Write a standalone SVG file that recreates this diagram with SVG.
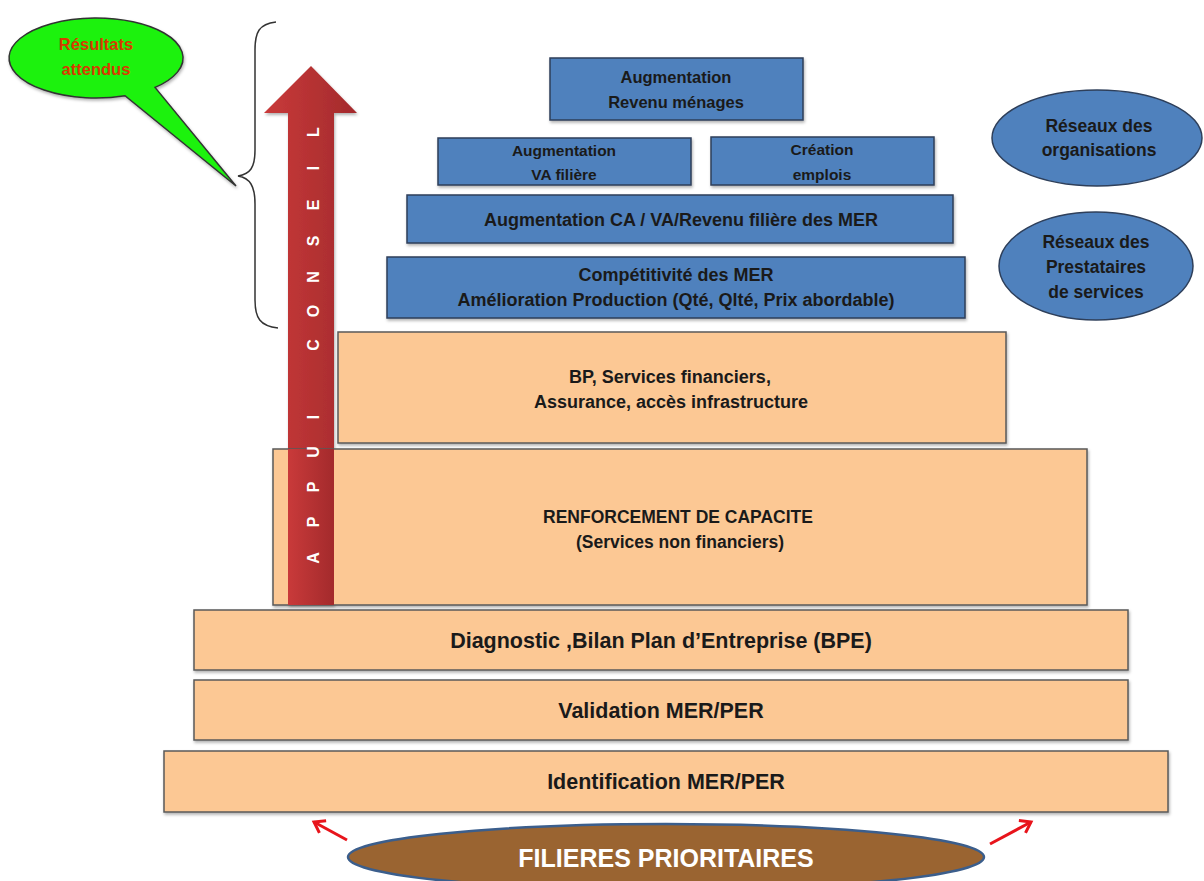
<svg xmlns="http://www.w3.org/2000/svg" width="1204" height="881" viewBox="0 0 1204 881">
<style>
.blue{fill:#4F81BD;stroke:#2E3F5A;stroke-width:1.5}
.peach{fill:#FCC894;stroke:#5A5A5A;stroke-width:1.5}
.t{font-family:"Liberation Sans",Arial,sans-serif;font-weight:bold;fill:#1a1a1a;text-anchor:middle}
.s15{font-size:15.5px}
.s16{font-size:16.5px}
.s18{font-size:18px}
.s21{font-size:21.5px}
</style>
<defs>
<linearGradient id="ag" x1="0" y1="0" x2="1" y2="0">
<stop offset="0" stop-color="#C93A3A"/>
<stop offset="1" stop-color="#A32A2C"/>
</linearGradient>
<filter id="sh" x="-5%" y="-5%" width="110%" height="120%">
<feDropShadow dx="1" dy="2" stdDeviation="1.5" flood-color="#000" flood-opacity="0.3"/>
</filter>
<marker id="ra" markerWidth="18" markerHeight="18" refX="13" refY="9" orient="auto" markerUnits="userSpaceOnUse">
<path d="M3,2 L13,9 L3,16" fill="none" stroke="#E8141B" stroke-width="3"/>
</marker>
</defs>
<rect width="1204" height="881" fill="#fff"/>

<g id="callout">
<path d="M155,87.4 A87,40 0 1,0 125,95.7 L236,186 Z" fill="#1AF20F" stroke="#333" stroke-width="1.5" filter="url(#sh)"/>
<text x="96" y="50" class="t" style="fill:#D83A00;font-size:16.5px">Résultats</text>
<text x="96" y="75" class="t" style="fill:#D83A00;font-size:16.5px">attendus</text>
</g>

<g id="brace">
<path d="M276,22 C259,24 255,32 255,50 L255,150 C255,168 250,174 238,176 C250,178 255,186 255,204 L255,300 C255,318 260,326 278,328" fill="none" stroke="#333" stroke-width="1.5"/>
</g>

<g id="appui-arrow">
<path d="M311,66 L357,113 L334,113 L334,605 L288,605 L288,113 L264,113 Z" fill="url(#ag)" filter="url(#sh)"/>
</g>

<g id="n-revenu">
<rect x="550" y="58" width="253" height="62" class="blue" filter="url(#sh)"/>
<text x="676" y="83" class="t s16">Augmentation</text>
<text x="676" y="108" class="t s16">Revenu ménages</text>
</g>
<g id="n-va">
<rect x="438" y="138" width="253" height="47" class="blue" filter="url(#sh)"/>
<text x="564" y="156" class="t s15">Augmentation</text>
<text x="564" y="180" class="t s15">VA filière</text>
</g>
<g id="n-emplois">
<rect x="711" y="137" width="223" height="48" class="blue" filter="url(#sh)"/>
<text x="822" y="155" class="t s15">Création</text>
<text x="822" y="180" class="t s15">emplois</text>
</g>
<g id="n-ca">
<rect x="407" y="195" width="546" height="48" class="blue" filter="url(#sh)"/>
<text x="681" y="226" class="t s18">Augmentation CA / VA/Revenu filière des MER</text>
</g>
<g id="n-compet">
<rect x="387" y="257" width="578" height="61" class="blue" filter="url(#sh)"/>
<text x="676" y="281" class="t s18">Compétitivité des MER</text>
<text x="676" y="306" class="t s18">Amélioration  Production (Qté, Qlté, Prix abordable)</text>
</g>

<g id="n-reseaux-org">
<ellipse cx="1097" cy="138" rx="105" ry="48" class="blue"/>
<text x="1099" y="132" class="t" style="font-size:17.5px">Réseaux des</text>
<text x="1099" y="156" class="t" style="font-size:17.5px">organisations</text>
</g>
<g id="n-reseaux-prest">
<ellipse cx="1096" cy="266" rx="97" ry="54" class="blue"/>
<text x="1096" y="248" class="t" style="font-size:17.5px">Réseaux des</text>
<text x="1096" y="273" class="t" style="font-size:17.5px">Prestataires</text>
<text x="1096" y="298" class="t" style="font-size:17.5px">de services</text>
</g>

<g id="n-bp">
<rect x="338" y="332" width="668" height="111" class="peach" filter="url(#sh)"/>
<text x="670" y="383" class="t s18">BP, Services financiers,</text>
<text x="671" y="408" class="t s18">Assurance,  accès infrastructure</text>
</g>
<g id="n-renfo">
<rect x="273" y="449" width="814" height="156" class="peach" filter="url(#sh)"/>
<text x="678" y="523" class="t" style="font-size:17.5px">RENFORCEMENT  DE CAPACITE</text>
<text x="680" y="548" class="t" style="font-size:17.5px">(Services non financiers)</text>
</g>

<g id="appui-shaft-over">
<rect x="288" y="449" width="46" height="156" fill="url(#ag)"/>
<text transform="rotate(-90)" y="319" x="-558 -522 -487 -452 -417 -345 -311 -277 -241 -205 -168 -132" style="font-family:'Liberation Sans',Arial,sans-serif;font-weight:bold;font-size:16px;fill:#fff;text-anchor:middle">APPUICONSEIL</text>
</g>

<g id="n-diag">
<rect x="194" y="610" width="934" height="60" class="peach" filter="url(#sh)"/>
<text x="661" y="648" class="t s21">Diagnostic ,Bilan Plan d’Entreprise (BPE)</text>
</g>
<g id="n-valid">
<rect x="194" y="680" width="934" height="60" class="peach" filter="url(#sh)"/>
<text x="661" y="718" class="t s21">Validation MER/PER</text>
</g>
<g id="n-ident">
<rect x="164" y="751" width="1004" height="61" class="peach" filter="url(#sh)"/>
<text x="666" y="789" class="t s21">Identification MER/PER</text>
</g>

<g id="n-filieres">
<ellipse cx="666" cy="857" rx="318" ry="33" fill="#9A6431" stroke="#3B5E8C" stroke-width="2.5"/>
<text x="666" y="867" class="t" style="fill:#fff;font-size:25px">FILIERES PRIORITAIRES</text>
</g>

<g id="connectors">
<line x1="347" y1="840" x2="314" y2="822" stroke="#E8141B" stroke-width="3" marker-end="url(#ra)"/>
<line x1="990" y1="844" x2="1031" y2="822" stroke="#E8141B" stroke-width="3" marker-end="url(#ra)"/>
</g>
</svg>
